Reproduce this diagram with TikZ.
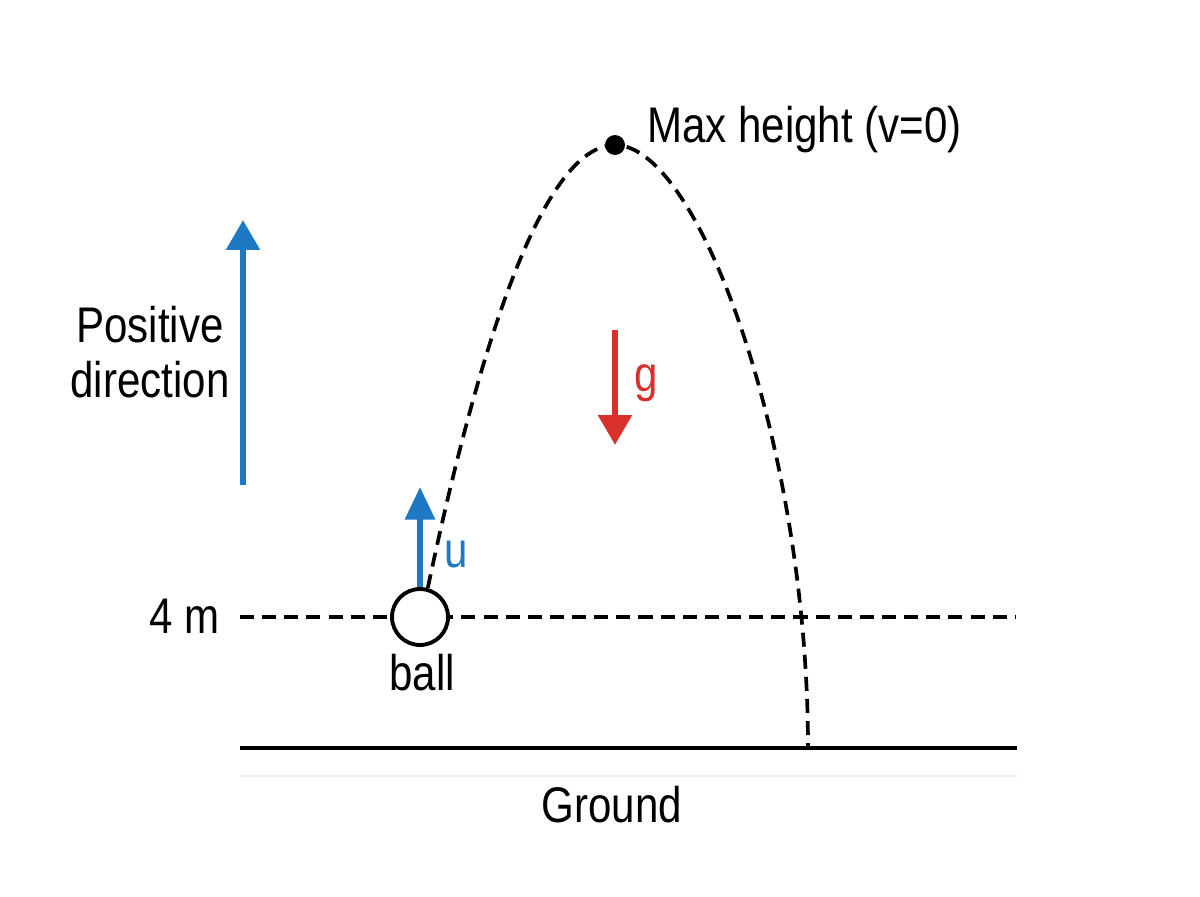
\documentclass[tikz,border=0pt]{standalone}
\usepackage{fontspec}
\setmainfont{Liberation Sans}[FakeStretch=0.84]
\usetikzlibrary{arrows.meta}

\definecolor{upblue}{HTML}{1F78C4}
\definecolor{gred}{HTML}{D9302C}

\tikzset{
    lbl/.style={font=\fontsize{28.5}{31}\selectfont, inner sep=0pt},
    traj/.style={line width=2.1pt, dash pattern=on 8pt off 4.6pt},
    vec/.style={line width=3.8pt, -{Triangle[width=18.5pt,length=17pt]}},
}

\begin{document}
\begin{tikzpicture}[x=0.02cm,y=-0.02cm]
    \useasboundingbox (0,0) rectangle (1200,896);

    % ground
    \draw[gray!15, line width=0.6pt] (240,776) -- (1017,776);
    \draw[line width=2.4pt] (240,748) -- (1017,748);
    \node[lbl, anchor=base] (groundlbl) at (612,822) {Ground};

    % launch level
    \draw[traj] (240,617) -- (1015,617);
    \node[lbl, anchor=base east] (level) at (220,633) {4 m};
    \node[circle, draw, fill=white, line width=2.2pt, minimum size=1.12cm, inner sep=0pt] (ball) at (420,617) {};
    \node[lbl, anchor=base] (balllbl) at (422,690) {ball};

    % path of the ball
    \node[circle, fill=black, minimum size=0.4cm, inner sep=0pt] (peak) at (615,145) {};
    \coordinate (land) at (808,748);
    \draw[traj] (ball.75) .. controls (490,294) and (553,145) .. (peak.center)
        .. controls (700,145) and (808,450) .. (land);
    \node[lbl, anchor=base west] (peaklbl) at (647,142) {Max height (v=0)};

    % initial velocity
    \coordinate (utip) at (420,487);
    \draw[vec, upblue, line width=3.4pt, -{Triangle[width=16.5pt,length=18.5pt]}] (ball.north) -- (utip);
    \node[lbl, text=upblue] (ulbl) at (456,555) {u};

    % sign convention
    \coordinate (postail) at (243,485);
    \coordinate (postip) at (243,220);
    \draw[vec, upblue] (postail) -- (postip);
    \node[lbl, align=center, anchor=base] (poslbl) at (150,397) {Positive\\direction};

    % gravity
    \coordinate (gtail) at (615,330);
    \coordinate (gtip) at (615,445);
    \draw[vec, gred] (gtail) -- (gtip);
    \node[lbl, text=gred] (glbl) at (646,383) {g};
\end{tikzpicture}
\end{document}
